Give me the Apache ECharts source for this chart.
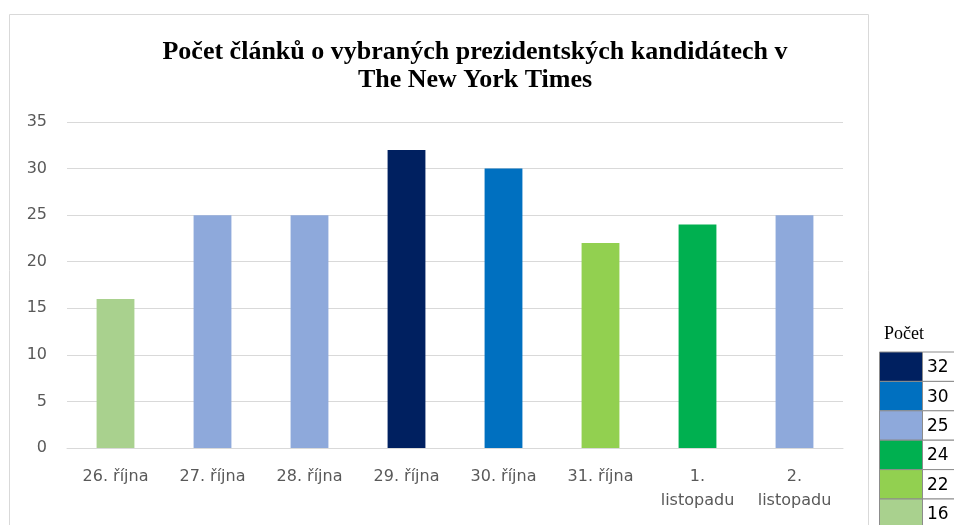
<!DOCTYPE html>
<html lang="cs">
<head>
<meta charset="UTF-8">
<title>Počet článků</title>
<script src="https://cdn.jsdelivr.net/npm/echarts@6/dist/echarts.min.js"></script>
<style>
  html, body { margin: 0; padding: 0; background: #fff; }
  #main { width: 954px; height: 525px; }
</style>
</head>
<body>
<div id="main"></div>
<script>
var categories = ['26. října', '27. října', '28. října', '29. října', '30. října', '31. října', '1.\nlistopadu', '2.\nlistopadu'];
var counts = [16, 25, 25, 32, 30, 22, 24, 25];
var legendValues = [32, 30, 25, 24, 22, 16];
var legendColors = ['#002060', '#0070C0', '#8EA9DB', '#00B050', '#92D050', '#A9D18E'];

function colorFor(v) {
  var i = legendValues.indexOf(v);
  return i >= 0 ? legendColors[i] : '#999';
}

var graphics = [
  { type: 'rect', shape: { x: 9.5, y: 14.5, width: 859, height: 530 },
    style: { fill: null, stroke: '#d9d9d9', lineWidth: 1 }, silent: true },
  { type: 'text', left: 884, top: 325,
    style: { text: 'Počet', font: '18px "Liberation Serif"', fill: '#000' } }
];
var rowH = 29.4;
legendValues.forEach(function (v, i) {
  var y = 352 + i * rowH;
  graphics.push({ type: 'rect', shape: { x: 879.5, y: y, width: 43, height: rowH },
    style: { fill: legendColors[i], stroke: '#8c8c8c', lineWidth: 1 } });
  graphics.push({ type: 'rect', shape: { x: 922.5, y: y, width: 40, height: rowH },
    style: { fill: '#fff', stroke: '#8c8c8c', lineWidth: 1 } });
  graphics.push({ type: 'text', x: 927, y: y + rowH / 2 + 1,
    style: { text: String(v), font: '17px "DejaVu Sans"', fill: '#000', verticalAlign: 'middle' } });
});

var chart = echarts.init(document.getElementById('main'));
chart.setOption({
  animation: false,
  title: {
    text: 'Počet článků o vybraných prezidentských kandidátech v\nThe New York Times',
    left: 470, top: 33, textAlign: 'center',
    textStyle: { fontFamily: 'Liberation Serif', fontWeight: 'bold', fontSize: 26, lineHeight: 28, color: '#000' }
  },
  grid: { left: 67, right: 111, top: 122, bottom: 77 },
  xAxis: {
    type: 'category',
    data: categories,
    axisTick: { show: false },
    axisLine: { lineStyle: { color: '#d9d9d9' } },
    axisLabel: { color: '#595959', fontFamily: 'DejaVu Sans', fontSize: 16, margin: 17, lineHeight: 24, interval: 0 }
  },
  yAxis: {
    type: 'value',
    min: 0, max: 35, interval: 5,
    axisLabel: { color: '#595959', fontFamily: 'DejaVu Sans', fontSize: 16, margin: 20 },
    splitLine: { lineStyle: { color: '#d9d9d9' } }
  },
  series: [{
    type: 'bar',
    barWidth: '39%',
    data: counts.map(function (v) { return { value: v, itemStyle: { color: colorFor(v) } }; })
  }],
  graphic: graphics
});
</script>
</body>
</html>
